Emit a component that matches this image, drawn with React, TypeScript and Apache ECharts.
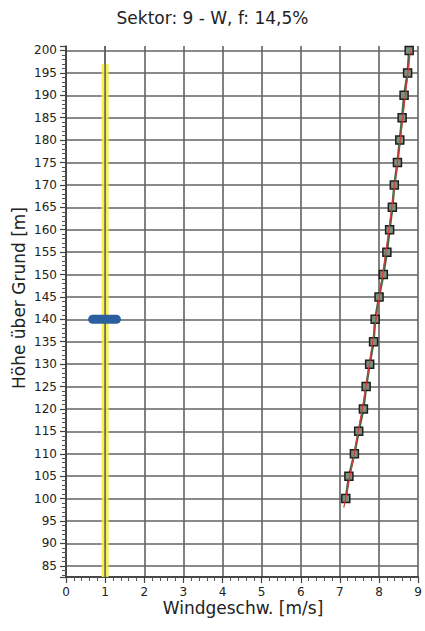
import React, { useEffect, useRef } from "react";
import * as echarts from "echarts";

const titleText = "Sektor: 9 - W, f: 14,5%";
const xAxisName = "Windgeschw. [m/s]";
const yAxisName = "Höhe über Grund [m]";

const heights = [100, 105, 110, 115, 120, 125, 130, 135, 140, 145, 150, 155, 160, 165, 170, 175, 180, 185, 190, 195, 200];
const speeds = [7.15, 7.23, 7.37, 7.48, 7.6, 7.67, 7.76, 7.86, 7.9, 8.0, 8.11, 8.2, 8.27, 8.34, 8.39, 8.47, 8.53, 8.59, 8.64, 8.73, 8.77];

const fitHeights = [98, 120, 140, 160, 180, 200];
const fitSpeeds = [7.1, 7.57, 7.92, 8.25, 8.54, 8.8];

const bandX = 1;
const bandHeights = [82.5, 197];

const measHeight = 140;
const measSpeeds = [0.68, 1.29];

const xMin = 0;
const xMax = 9;
const yMin = 82.5;
const yMax = 201;

const FONT = "DejaVu Sans";
const GRID_COLOR = "#636363";

export default function App() {
  const ref = useRef<HTMLDivElement>(null);

  useEffect(() => {
    if (!ref.current) return;
    const chart = echarts.init(ref.current, undefined, { renderer: "svg" });
    const option: any = {
      animation: false,
      backgroundColor: "#ffffff",
      title: {
        text: titleText,
        left: "center",
        top: 4,
        textStyle: { fontFamily: FONT, fontSize: 17, fontWeight: "normal", color: "#222" },
      },
      grid: { left: 66, right: 5, top: 46, bottom: 54 },
      xAxis: {
        type: "value",
        min: xMin,
        max: xMax,
        interval: 1,
        axisLine: { show: true, onZero: false, lineStyle: { color: "#333", width: 1.5 } },
        axisTick: { show: true, length: 6, lineStyle: { color: "#444", width: 1.2 } },
        minorTick: { show: true, splitNumber: 5, length: 4, lineStyle: { color: "#555", width: 1 } },
        axisLabel: { fontFamily: FONT, fontSize: 12, color: "#222", margin: 9 },
        splitLine: { show: true, lineStyle: { color: GRID_COLOR, width: 1.6 } },
      },
      yAxis: {
        type: "value",
        min: yMin,
        max: yMax,
        splitNumber: 23,
        axisLine: { show: true, lineStyle: { color: "#333", width: 1.5 } },
        axisTick: { show: true, length: 6, lineStyle: { color: "#444", width: 1.2 } },
        minorTick: { show: true, splitNumber: 5, length: 4, lineStyle: { color: "#555", width: 1 } },
        axisLabel: {
          fontFamily: FONT,
          fontSize: 12,
          color: "#222",
          margin: 9,
          showMinLabel: true,
          showMaxLabel: true,
          formatter: (v: number) => (Math.abs(v % 5) < 1e-9 ? String(v) : ""),
        },
        splitLine: { show: true, showMaxLine: false, lineStyle: { color: GRID_COLOR, width: 1.6 } },
      },
      graphic: [
        {
          type: "text",
          x: 19,
          y: 298,
          rotation: Math.PI / 2,
          style: {
            text: yAxisName,
            fontFamily: FONT,
            fontSize: 17,
            fill: "#222",
            align: "center",
            verticalAlign: "middle",
          },
        },
        {
          type: "text",
          x: 243,
          y: 608,
          style: {
            text: xAxisName,
            fontFamily: FONT,
            fontSize: 17,
            fill: "#222",
            align: "center",
            verticalAlign: "middle",
          },
        },
      ],
      series: [
        {
          type: "line",
          data: bandHeights.map((h) => [bandX, h]),
          symbol: "none",
          silent: true,
          z: 1,
          lineStyle: { color: "#f3ef3c", width: 7, opacity: 0.85 },
        },
        {
          type: "line",
          data: [[bandX, yMin], [bandX, yMax]],
          symbol: "none",
          silent: true,
          z: 2,
          lineStyle: { color: GRID_COLOR, width: 1.6 },
        },
        {
          type: "line",
          data: measSpeeds.map((s) => [s, measHeight]),
          symbol: "none",
          z: 3,
          lineStyle: { color: "#2c5f9e", width: 9, cap: "round" },
        },
        {
          type: "line",
          data: speeds.map((s, i) => [s, heights[i]]),
          symbol: "rect",
          symbolSize: 8,
          z: 4,
          itemStyle: { color: "#7d8f7a", borderColor: "#1e1e1e", borderWidth: 1.5 },
          lineStyle: { color: "#3f6b48", width: 2.4 },
        },
        {
          type: "line",
          data: fitSpeeds.map((s, i) => [s, fitHeights[i]]),
          symbol: "none",
          smooth: true,
          z: 5,
          lineStyle: { color: "#d83a3a", width: 1.2 },
        },
      ],
    };
    chart.setOption(option);
    return () => chart.dispose();
  }, []);

  return <div ref={ref} style={{ width: 425, height: 631, position: "absolute", left: 0, top: 0 }} />;
}
